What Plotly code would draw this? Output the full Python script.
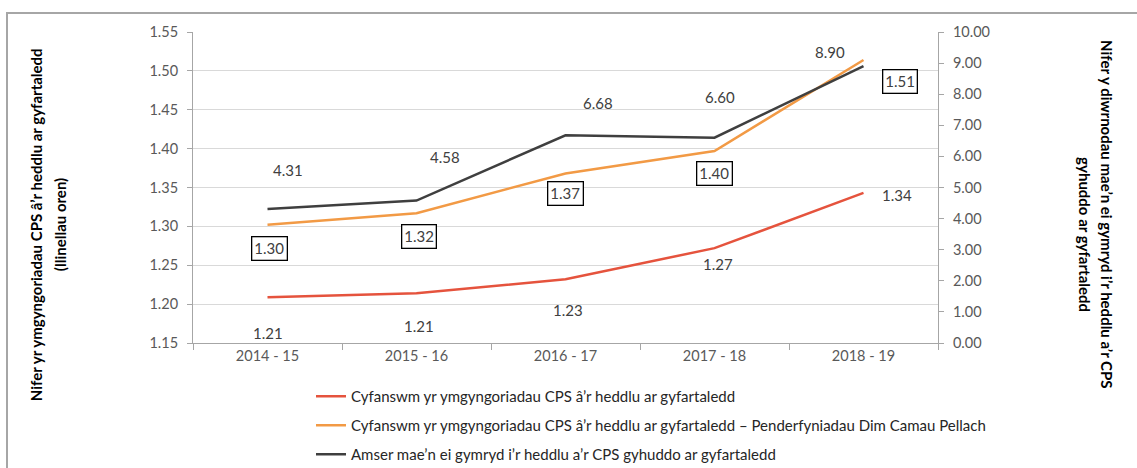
import plotly.graph_objects as go

categories = ["2014 - 15", "2015 - 16", "2016 - 17", "2017 - 18", "2018 - 19"]
consults_total = [1.209, 1.214, 1.232, 1.272, 1.343]
consults_nfa = [1.302, 1.317, 1.368, 1.397, 1.514]
days_to_charge = [4.31, 4.58, 6.68, 6.60, 8.90]

series_names = [
    "Cyfanswm yr ymgyngoriadau CPS â\u2019r heddlu ar gyfartaledd",
    "Cyfanswm yr ymgyngoriadau CPS â\u2019r heddlu ar gyfartaledd \u2013 Penderfyniadau Dim Camau Pellach",
    "Amser mae\u2019n ei gymryd i\u2019r heddlu a\u2019r CPS gyhuddo ar gyfartaledd",
]

left_title = ["Nifer yr ymgyngoriadau CPS â\u2019r heddlu ar gyfartaledd", "(llinellau oren)"]
right_title = ["Nifer y diwrnodau mae\u2019n ei gymryd i\u2019r heddlu a\u2019r CPS", "gyhuddo ar gyfartaledd"]

RED = "#E5533D"
ORANGE = "#F29A45"
DARK = "#3F3F3F"
FONT = "Lato"

fig = go.Figure()
fig.add_trace(go.Scatter(x=categories, y=consults_total, mode="lines", name=series_names[0],
                         line=dict(color=RED, width=2.5), legendgroup="a", yaxis="y"))
fig.add_trace(go.Scatter(x=categories, y=consults_nfa, mode="lines", name=series_names[1],
                         line=dict(color=ORANGE, width=2.5), legendgroup="b", yaxis="y"))
fig.add_trace(go.Scatter(x=categories, y=days_to_charge, mode="lines", name=series_names[2],
                         line=dict(color=DARK, width=2.5), legendgroup="c", yaxis="y2"))

annotations = []
label_font = dict(family=FONT, size=15, color="#404040")

# label offsets (pixels) per series
red_off = [(0, -36), (2, -33), (2, -31), (3, -16), (33, -2)]
orange_off = [(2, -24), (2, -23), (0, -20), (0, -23), (36, -22)]
dark_off = [(20, 39), (28, 44), (32, 32), (5, 41), (-34, 14)]

for c, v, (dx, dy) in zip(categories, consults_total, red_off):
    annotations.append(dict(x=c, y=v, xref="x", yref="y", text=f"{v:.2f}", showarrow=False,
                            xshift=dx, yshift=dy, font=label_font))
for c, v, (dx, dy) in zip(categories, consults_nfa, orange_off):
    annotations.append(dict(x=c, y=v, xref="x", yref="y", text=f"{v:.2f}", showarrow=False,
                            xshift=dx, yshift=dy, font=label_font, bordercolor="#000000",
                            borderwidth=1.3, borderpad=2, bgcolor="white"))
for c, v, (dx, dy) in zip(categories, days_to_charge, dark_off):
    annotations.append(dict(x=c, y=v, xref="x", yref="y2", text=f"{v:.2f}", showarrow=False,
                            xshift=dx, yshift=dy, font=label_font))

title_font = dict(family=FONT, size=15, color="#000000")
annotations.append(dict(x=-0.2107, y=0.379, xref="paper", yref="paper", text=f"<b>{left_title[0]}</b>",
                        textangle=-90, showarrow=False, font=title_font, xanchor="center", yanchor="middle"))
annotations.append(dict(x=-0.1785, y=0.379, xref="paper", yref="paper", text=f"<b>{left_title[1]}</b>",
                        textangle=-90, showarrow=False, font=title_font, xanchor="center", yanchor="middle"))
annotations.append(dict(x=1.2268, y=0.4116, xref="paper", yref="paper", text=f"<b>{right_title[0]}</b>",
                        textangle=90, showarrow=False, font=title_font, xanchor="center", yanchor="middle"))
annotations.append(dict(x=1.1973, y=0.347, xref="paper", yref="paper", text=f"<b>{right_title[1]}</b>",
                        textangle=90, showarrow=False, font=title_font, xanchor="center", yanchor="middle"))

tick_font = dict(family=FONT, size=14.5, color="#595959")

fig.update_layout(
    width=1137, height=468,
    autosize=False,
    margin=dict(l=193, r=199, t=32, b=125),
    paper_bgcolor="white", plot_bgcolor="white",
    font=dict(family=FONT),
    showlegend=True,
    legend=dict(x=(311 - 193) / 745, xref="paper", y=(468 - 380) / 468, yref="container",
                xanchor="left", yanchor="top",
                traceorder="grouped", tracegroupgap=6.5,
                font=dict(family=FONT, size=15, color="#262626"), bgcolor="rgba(0,0,0,0)"),
    xaxis=dict(type="category", range=[-0.5, 4.5], tickson="boundaries", ticks="outside", ticklen=6,
               tickcolor="#a6a6a6", showline=True, linecolor="#a6a6a6", linewidth=1, showgrid=False,
               tickfont=tick_font, fixedrange=True),
    yaxis=dict(range=[1.15, 1.55], dtick=0.05, tickformat=".2f", ticks="outside", ticklen=5,
               tickcolor="#a6a6a6", showline=True, linecolor="#a6a6a6", linewidth=1,
               showgrid=True, gridcolor="#d9d9d9", gridwidth=1, zeroline=False,
               tickfont=tick_font, ticklabelstandoff=6),
    yaxis2=dict(range=[0, 10], dtick=1, tickformat=".2f", overlaying="y", side="right",
                ticks="outside", ticklen=5, tickcolor="#a6a6a6", showline=True, linecolor="#a6a6a6",
                linewidth=1, showgrid=False, zeroline=False, tickfont=tick_font, ticklabelstandoff=6),
    annotations=annotations,
    shapes=[dict(type="rect", xref="paper", yref="paper", x0=(7 - 193) / 745, x1=(1145 - 193) / 745,
                 y0=(343 - 480) / 311, y1=(343 - 13) / 311, line=dict(color="#a6a6a6", width=2),
                 fillcolor="rgba(0,0,0,0)", layer="below")],
)

fig.write_html(
    "out.html",
    config={"responsive": False, "displayModeBar": False},
    default_width="1137px",
    default_height="468px",
    post_script="document.body.style.margin='0';document.body.style.overflow='hidden';",
)
